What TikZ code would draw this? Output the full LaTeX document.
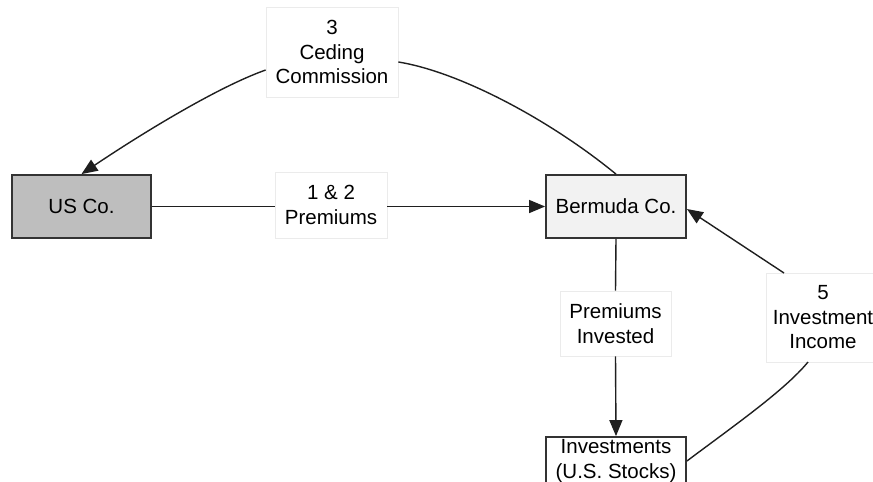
\documentclass[tikz,border=0pt]{standalone}
\usepackage{fontspec}
\setmainfont{Liberation Sans}
\usetikzlibrary{arrows.meta}
\definecolor{usfill}{HTML}{BEBEBE}
\definecolor{bmfill}{HTML}{F2F2F2}
\definecolor{boxline}{HTML}{333333}
\definecolor{lblline}{HTML}{EBEBEB}
\begin{document}
\begin{tikzpicture}[x=1pt,y=-1pt,
  every node/.style={font=\fontsize{20.5}{24.5}\selectfont, align=center, inner sep=0pt},
  entity/.style={draw=boxline, line width=1.8pt, minimum width=#1, minimum height=63pt},
  entity/.default=140pt,
  lbl/.style={draw=lblline, line width=0.7pt, fill=white},
  conn/.style={line width=1.4pt, draw=black!88},
  tip/.style={-{Triangle[length=16pt,width=13pt]}}
]
\useasboundingbox (0,0) rectangle (873,482);
\clip (0,0) rectangle (873,482);

\node[entity=139pt, fill=usfill] (us) at (81.5,206.5) {US Co.};
\node[entity, fill=bmfill] (bm) at (616,206.5) {Bermuda Co.};
\node[entity, fill=white, minimum height=48pt] (inv) at (616,461) {Investments\\(U.S. Stocks)};

\node[lbl, minimum width=112pt, minimum height=66pt] (prem) at (331,205) {1 \& 2\\Premiums};
\node[lbl, minimum width=132pt, minimum height=90pt] (ced) at (332,52) {3\\Ceding\\Commission};
\node[lbl, minimum width=111pt, minimum height=65pt] (pinv) at (615.5,323.5) {Premiums\\Invested};
\node[lbl, minimum width=114pt, minimum height=89pt] (inc) at (823,317.5) {5\\Investment\\Income};

% Premiums
\draw[conn] (us.east) -- (us.east -| prem.west);
\draw[conn, tip] (bm.west -| prem.east) -- (bm.west);

% Ceding commission
\draw[conn] (bm.north) .. controls (550,120) and (460,72) .. (ced.east |- 0,62);
\draw[conn, tip] (ced.west |- 0,70) .. controls (215,88) and (135,138) .. (us.north);

% Premiums invested
\draw[conn] (bm.south) -- (pinv.north);
\draw[conn, tip] (pinv.south) -- (inv.north);

% Investment income
\draw[conn] (inv.east) .. controls (735,425) and (785,390) .. (808,362);
\coordinate (incTop) at (784,273);
\draw[conn, tip] (incTop) -- (bm.east |- 0,209);
\end{tikzpicture}
\end{document}
